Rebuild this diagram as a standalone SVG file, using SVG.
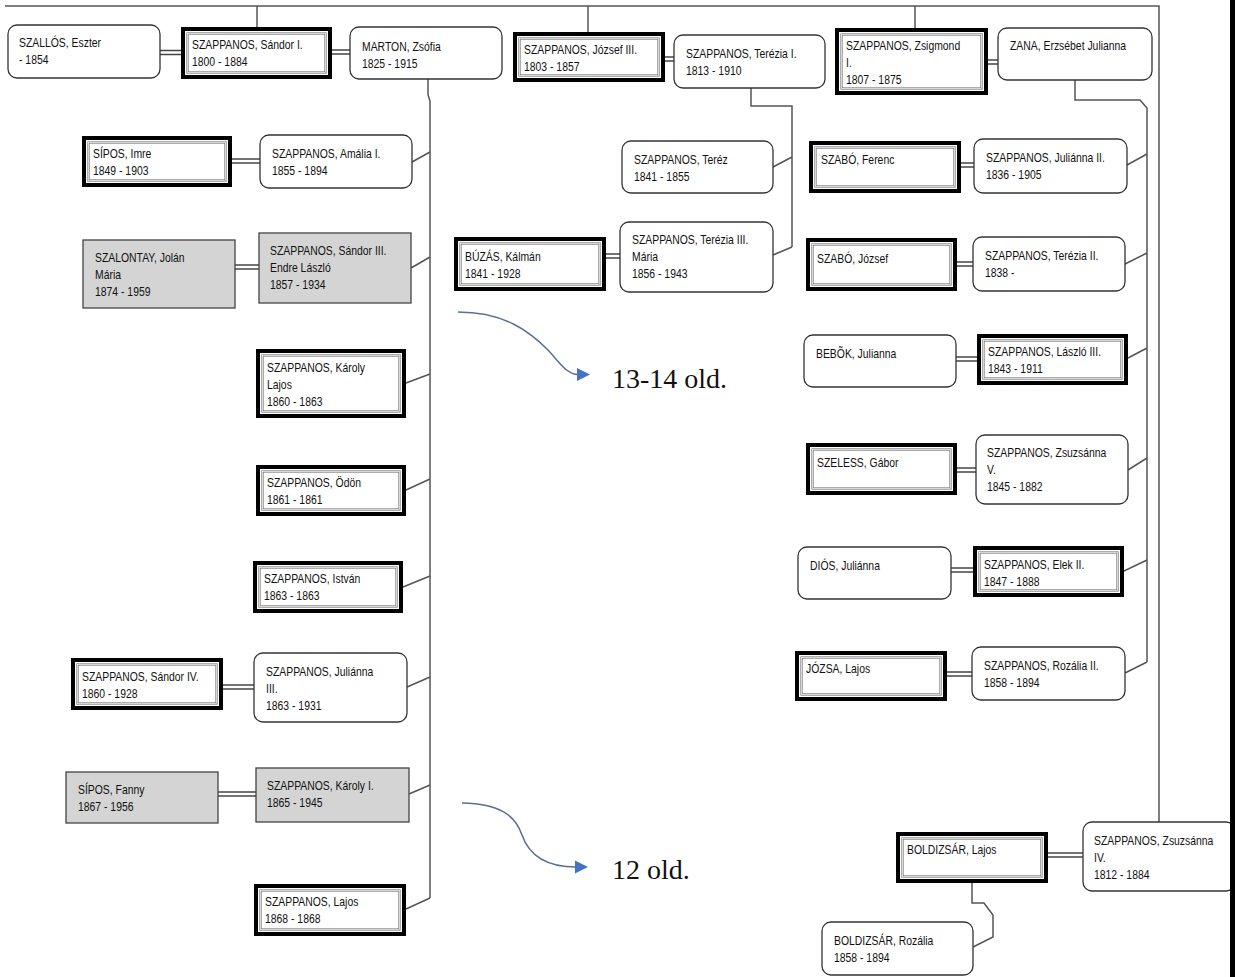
<svg xmlns="http://www.w3.org/2000/svg" width="1235" height="977" viewBox="0 0 1235 977">
<style>
.rnd{fill:#fff;stroke:#333;stroke-width:1.3}
.thk{fill:#fff;stroke:#000;stroke-width:4}
.inr{fill:none;stroke:#777;stroke-width:2.2}
.inw{fill:none;stroke:#fff;stroke-width:0.7}
.gry{fill:#d4d4d4;stroke:#444;stroke-width:1.3}
.t{font-family:'Liberation Sans',Arial,sans-serif;font-size:13px;fill:#111}
.ln{fill:none;stroke:#555;stroke-width:1.5}
.dbl{stroke:#444;stroke-width:5.5}
.dbw{stroke:#fff;stroke-width:2.5}
.arr{fill:none;stroke:#5b6e94;stroke-width:1.5}
.ah{fill:#4472c4}
.big{font-family:'Liberation Serif','Times New Roman',serif;font-size:28px;fill:#111}
</style>
<rect width="1235" height="977" fill="#fff"/>
<g id="connectors">
<path class="ln" d="M5,6 H1159 V822"/>
<path class="ln" d="M257,6 V27 M588,6 V32 M915,6 V28"/>
<path class="ln" d="M428,79 V95 L430,101 V898"/>
<path class="ln" d="M412,162 L430,152 M411,268 L430,257 M406,383 L430,374 M406,490 L430,479 M403,587 L430,576 M407,687 L430,677 M409,794 L430,785 M406,909 L430,898"/>
<path class="ln" d="M751,88 V106 H792 V247 M773,167 L792,157 M773,255 L792,247"/>
<path class="ln" d="M1075,80 V100 H1140 L1147,108 V662 M1127,165 L1147,154 M1125,264 L1147,253 M1128,358 L1147,348 M1128,470 L1147,458 M1124,571 L1147,560 M1125,673 L1147,662"/>
<path class="ln" d="M972,883 V903 H984 L993,915 V937 L973,947"/>
<g class="dbl">
<line x1="160" y1="52.5" x2="181" y2="52.5"/><line x1="332" y1="52" x2="350" y2="52"/><line x1="665" y1="59" x2="674" y2="59"/><line x1="988" y1="62" x2="998" y2="62"/>
<line x1="232" y1="161" x2="260" y2="161"/><line x1="235" y1="267" x2="259" y2="267"/><line x1="223" y1="687" x2="254" y2="687"/><line x1="218" y1="794" x2="256" y2="794"/>
<line x1="606" y1="256" x2="620" y2="256"/><line x1="961" y1="165" x2="974" y2="165"/><line x1="957" y1="264" x2="973" y2="264"/><line x1="956" y1="359" x2="977" y2="359"/>
<line x1="957" y1="470" x2="976" y2="470"/><line x1="951" y1="570" x2="973" y2="570"/><line x1="947" y1="674" x2="972" y2="674"/><line x1="1048" y1="855" x2="1083" y2="855"/>
</g>
<g class="dbw">
<line x1="158" y1="52.5" x2="183" y2="52.5"/><line x1="330" y1="52" x2="352" y2="52"/><line x1="663" y1="59" x2="676" y2="59"/><line x1="986" y1="62" x2="1000" y2="62"/>
<line x1="230" y1="161" x2="262" y2="161"/><line x1="233" y1="267" x2="261" y2="267"/><line x1="221" y1="687" x2="256" y2="687"/><line x1="216" y1="794" x2="258" y2="794"/>
<line x1="604" y1="256" x2="622" y2="256"/><line x1="959" y1="165" x2="976" y2="165"/><line x1="955" y1="264" x2="975" y2="264"/><line x1="954" y1="359" x2="979" y2="359"/>
<line x1="955" y1="470" x2="978" y2="470"/><line x1="949" y1="570" x2="975" y2="570"/><line x1="945" y1="674" x2="974" y2="674"/><line x1="1046" y1="855" x2="1085" y2="855"/>
</g>
</g>
<g id="n-szallos"><rect class="rnd" x="8" y="25" width="152" height="53" rx="9"/><text class="t" transform="translate(19,47) scale(0.8,1)"><tspan x="0">SZALLÓS, Eszter</tspan><tspan x="0" dy="17">- 1854</tspan></text></g>
<g id="n-sandor1"><rect class="thk" x="183" y="29" width="147" height="48"/><rect class="inr" x="187.5" y="33.5" width="138" height="39"/><rect class="inw" x="187.5" y="33.5" width="138" height="39"/><text class="t" transform="translate(192,49) scale(0.8,1)"><tspan x="0">SZAPPANOS, Sándor I.</tspan><tspan x="0" dy="17">1800 - 1884</tspan></text></g>
<g id="n-marton"><rect class="rnd" x="350" y="27" width="152" height="52" rx="9"/><text class="t" transform="translate(362,51) scale(0.8,1)"><tspan x="0">MARTON, Zsófia</tspan><tspan x="0" dy="17">1825 - 1915</tspan></text></g>
<g id="n-jozsef3"><rect class="thk" x="515" y="34" width="148" height="46"/><rect class="inr" x="519.5" y="38.5" width="139" height="37"/><rect class="inw" x="519.5" y="38.5" width="139" height="37"/><text class="t" transform="translate(524,54) scale(0.8,1)"><tspan x="0">SZAPPANOS, József III.</tspan><tspan x="0" dy="17">1803 - 1857</tspan></text></g>
<g id="n-terezia1"><rect class="rnd" x="674" y="35" width="151" height="53" rx="9"/><text class="t" transform="translate(686,58) scale(0.8,1)"><tspan x="0">SZAPPANOS, Terézia I.</tspan><tspan x="0" dy="17">1813 - 1910</tspan></text></g>
<g id="n-zsigmond"><rect class="thk" x="837" y="30" width="149" height="63"/><rect class="inr" x="841.5" y="34.5" width="140" height="54"/><rect class="inw" x="841.5" y="34.5" width="140" height="54"/><text class="t" transform="translate(846,50) scale(0.8,1)"><tspan x="0">SZAPPANOS, Zsigmond</tspan><tspan x="0" dy="17">I.</tspan><tspan x="0" dy="17">1807 - 1875</tspan></text></g>
<g id="n-zana"><rect class="rnd" x="998" y="28" width="154" height="52" rx="9"/><text class="t" transform="translate(1010,50) scale(0.8,1)"><tspan x="0">ZANA, Erzsébet Julianna</tspan></text></g>
<g id="n-sipos-imre"><rect class="thk" x="84" y="138" width="146" height="47"/><rect class="inr" x="88.5" y="142.5" width="137" height="38"/><rect class="inw" x="88.5" y="142.5" width="137" height="38"/><text class="t" transform="translate(93,158) scale(0.8,1)"><tspan x="0">SÍPOS, Imre</tspan><tspan x="0" dy="17">1849 - 1903</tspan></text></g>
<g id="n-amalia"><rect class="rnd" x="260" y="135" width="152" height="53" rx="9"/><text class="t" transform="translate(272,158) scale(0.8,1)"><tspan x="0">SZAPPANOS, Amália I.</tspan><tspan x="0" dy="17">1855 - 1894</tspan></text></g>
<g id="n-szalontay"><rect class="gry" x="83" y="240" width="152" height="68"/><text class="t" transform="translate(95,262) scale(0.8,1)"><tspan x="0">SZALONTAY, Jolán</tspan><tspan x="0" dy="17">Mária</tspan><tspan x="0" dy="17">1874 - 1959</tspan></text></g>
<g id="n-sandor3"><rect class="gry" x="259" y="233" width="152" height="70"/><text class="t" transform="translate(270,255) scale(0.8,1)"><tspan x="0">SZAPPANOS, Sándor III.</tspan><tspan x="0" dy="17">Endre László</tspan><tspan x="0" dy="17">1857 - 1934</tspan></text></g>
<g id="n-karoly-lajos"><rect class="thk" x="258" y="351" width="146" height="65"/><rect class="inr" x="262.5" y="355.5" width="137" height="56"/><rect class="inw" x="262.5" y="355.5" width="137" height="56"/><text class="t" transform="translate(267,372) scale(0.8,1)"><tspan x="0">SZAPPANOS, Károly</tspan><tspan x="0" dy="17">Lajos</tspan><tspan x="0" dy="17">1860 - 1863</tspan></text></g>
<g id="n-odon"><rect class="thk" x="258" y="467" width="146" height="47"/><rect class="inr" x="262.5" y="471.5" width="137" height="38"/><rect class="inw" x="262.5" y="471.5" width="137" height="38"/><text class="t" transform="translate(267,487) scale(0.8,1)"><tspan x="0">SZAPPANOS, Ödön</tspan><tspan x="0" dy="17">1861 - 1861</tspan></text></g>
<g id="n-istvan"><rect class="thk" x="255" y="563" width="146" height="48"/><rect class="inr" x="259.5" y="567.5" width="137" height="39"/><rect class="inw" x="259.5" y="567.5" width="137" height="39"/><text class="t" transform="translate(264,583) scale(0.8,1)"><tspan x="0">SZAPPANOS, István</tspan><tspan x="0" dy="17">1863 - 1863</tspan></text></g>
<g id="n-sandor4"><rect class="thk" x="73" y="660" width="148" height="48"/><rect class="inr" x="77.5" y="664.5" width="139" height="39"/><rect class="inw" x="77.5" y="664.5" width="139" height="39"/><text class="t" transform="translate(82,681) scale(0.8,1)"><tspan x="0">SZAPPANOS, Sándor IV.</tspan><tspan x="0" dy="17">1860 - 1928</tspan></text></g>
<g id="n-julianna3"><rect class="rnd" x="254" y="653" width="153" height="69" rx="9"/><text class="t" transform="translate(266,676) scale(0.8,1)"><tspan x="0">SZAPPANOS, Juliánna</tspan><tspan x="0" dy="17">III.</tspan><tspan x="0" dy="17">1863 - 1931</tspan></text></g>
<g id="n-sipos-fanny"><rect class="gry" x="66" y="772" width="152" height="51"/><text class="t" transform="translate(78,794) scale(0.8,1)"><tspan x="0">SÍPOS, Fanny</tspan><tspan x="0" dy="17">1867 - 1956</tspan></text></g>
<g id="n-karoly1"><rect class="gry" x="256" y="768" width="153" height="54"/><text class="t" transform="translate(267,790) scale(0.8,1)"><tspan x="0">SZAPPANOS, Károly I.</tspan><tspan x="0" dy="17">1865 - 1945</tspan></text></g>
<g id="n-lajos"><rect class="thk" x="256" y="886" width="148" height="48"/><rect class="inr" x="260.5" y="890.5" width="139" height="39"/><rect class="inw" x="260.5" y="890.5" width="139" height="39"/><text class="t" transform="translate(265,906) scale(0.8,1)"><tspan x="0">SZAPPANOS, Lajos</tspan><tspan x="0" dy="17">1868 - 1868</tspan></text></g>
<g id="n-terez"><rect class="rnd" x="622" y="141" width="151" height="52" rx="9"/><text class="t" transform="translate(634,164) scale(0.8,1)"><tspan x="0">SZAPPANOS, Teréz</tspan><tspan x="0" dy="17">1841 - 1855</tspan></text></g>
<g id="n-buzas"><rect class="thk" x="456" y="239" width="148" height="50"/><rect class="inr" x="460.5" y="243.5" width="139" height="41"/><rect class="inw" x="460.5" y="243.5" width="139" height="41"/><text class="t" transform="translate(465,261) scale(0.8,1)"><tspan x="0">BÚZÁS, Kálmán</tspan><tspan x="0" dy="17">1841 - 1928</tspan></text></g>
<g id="n-terezia3"><rect class="rnd" x="620" y="222" width="153" height="70" rx="9"/><text class="t" transform="translate(632,244) scale(0.8,1)"><tspan x="0">SZAPPANOS, Terézia III.</tspan><tspan x="0" dy="17">Mária</tspan><tspan x="0" dy="17">1856 - 1943</tspan></text></g>
<g id="n-szabo-ferenc"><rect class="thk" x="811" y="143" width="148" height="48"/><rect class="inr" x="815.5" y="147.5" width="139" height="39"/><rect class="inw" x="815.5" y="147.5" width="139" height="39"/><text class="t" transform="translate(821,164) scale(0.8,1)"><tspan x="0">SZABÓ, Ferenc</tspan></text></g>
<g id="n-julianna2"><rect class="rnd" x="974" y="139" width="153" height="54" rx="9"/><text class="t" transform="translate(986,162) scale(0.8,1)"><tspan x="0">SZAPPANOS, Juliánna II.</tspan><tspan x="0" dy="17">1836 - 1905</tspan></text></g>
<g id="n-szabo-jozsef"><rect class="thk" x="808" y="240" width="147" height="49"/><rect class="inr" x="812.5" y="244.5" width="138" height="40"/><rect class="inw" x="812.5" y="244.5" width="138" height="40"/><text class="t" transform="translate(817,263) scale(0.8,1)"><tspan x="0">SZABÓ, József</tspan></text></g>
<g id="n-terezia2"><rect class="rnd" x="973" y="237" width="152" height="54" rx="9"/><text class="t" transform="translate(985,260) scale(0.8,1)"><tspan x="0">SZAPPANOS, Terézia II.</tspan><tspan x="0" dy="17">1838 -</tspan></text></g>
<g id="n-bebok"><rect class="rnd" x="804" y="335" width="152" height="52" rx="9"/><text class="t" transform="translate(816,358) scale(0.8,1)"><tspan x="0">BEBÕK, Julianna</tspan></text></g>
<g id="n-laszlo3"><rect class="thk" x="979" y="336" width="147" height="47"/><rect class="inr" x="983.5" y="340.5" width="138" height="38"/><rect class="inw" x="983.5" y="340.5" width="138" height="38"/><text class="t" transform="translate(988,356) scale(0.8,1)"><tspan x="0">SZAPPANOS, László III.</tspan><tspan x="0" dy="17">1843 - 1911</tspan></text></g>
<g id="n-szeless"><rect class="thk" x="808" y="445" width="147" height="48"/><rect class="inr" x="812.5" y="449.5" width="138" height="39"/><rect class="inw" x="812.5" y="449.5" width="138" height="39"/><text class="t" transform="translate(817,467) scale(0.8,1)"><tspan x="0">SZELESS, Gábor</tspan></text></g>
<g id="n-zsuzsanna5"><rect class="rnd" x="976" y="435" width="152" height="69" rx="9"/><text class="t" transform="translate(987,457) scale(0.8,1)"><tspan x="0">SZAPPANOS, Zsuzsánna</tspan><tspan x="0" dy="17">V.</tspan><tspan x="0" dy="17">1845 - 1882</tspan></text></g>
<g id="n-dios"><rect class="rnd" x="798" y="547" width="153" height="52" rx="9"/><text class="t" transform="translate(810,570) scale(0.8,1)"><tspan x="0">DIÓS, Juliánna</tspan></text></g>
<g id="n-elek2"><rect class="thk" x="975" y="548" width="147" height="47"/><rect class="inr" x="979.5" y="552.5" width="138" height="38"/><rect class="inw" x="979.5" y="552.5" width="138" height="38"/><text class="t" transform="translate(984,569) scale(0.8,1)"><tspan x="0">SZAPPANOS, Elek II.</tspan><tspan x="0" dy="17">1847 - 1888</tspan></text></g>
<g id="n-jozsa"><rect class="thk" x="797" y="653" width="148" height="46"/><rect class="inr" x="801.5" y="657.5" width="139" height="37"/><rect class="inw" x="801.5" y="657.5" width="139" height="37"/><text class="t" transform="translate(806,673) scale(0.8,1)"><tspan x="0">JÓZSA, Lajos</tspan></text></g>
<g id="n-rozalia2"><rect class="rnd" x="972" y="647" width="153" height="53" rx="9"/><text class="t" transform="translate(984,670) scale(0.8,1)"><tspan x="0">SZAPPANOS, Rozália II.</tspan><tspan x="0" dy="17">1858 - 1894</tspan></text></g>
<g id="n-boldizsar-lajos"><rect class="thk" x="898" y="834" width="148" height="47"/><rect class="inr" x="902.5" y="838.5" width="139" height="38"/><rect class="inw" x="902.5" y="838.5" width="139" height="38"/><text class="t" transform="translate(907,854) scale(0.8,1)"><tspan x="0">BOLDIZSÁR, Lajos</tspan></text></g>
<g id="n-zsuzsanna4"><rect class="rnd" x="1083" y="822" width="152" height="69" rx="9"/><text class="t" transform="translate(1094,845) scale(0.8,1)"><tspan x="0">SZAPPANOS, Zsuzsánna</tspan><tspan x="0" dy="17">IV.</tspan><tspan x="0" dy="17">1812 - 1884</tspan></text></g>
<g id="n-boldizsar-rozalia"><rect class="rnd" x="822" y="922" width="151" height="53" rx="9"/><text class="t" transform="translate(834,945) scale(0.8,1)"><tspan x="0">BOLDIZSÁR, Rozália</tspan><tspan x="0" dy="17">1858 - 1894</tspan></text></g>
<g id="ref-13-14">
<path class="arr" d="M458,312 C505,312 530,332 548,350 C560,363 567,374.5 578,374.5"/>
<polygon class="ah" points="577,368 590,374.5 577,381"/>
<text class="big" x="612" y="388">13-14 old.</text>
</g>
<g id="ref-12">
<path class="arr" d="M462,803 C500,804 515,815 522,835 C530,858 550,867 576,867"/>
<polygon class="ah" points="575,860.5 588,867 575,873.5"/>
<text class="big" x="612" y="879">12 old.</text>
</g>
<rect x="1230" y="0" width="5" height="977" fill="#000"/>
</svg>
